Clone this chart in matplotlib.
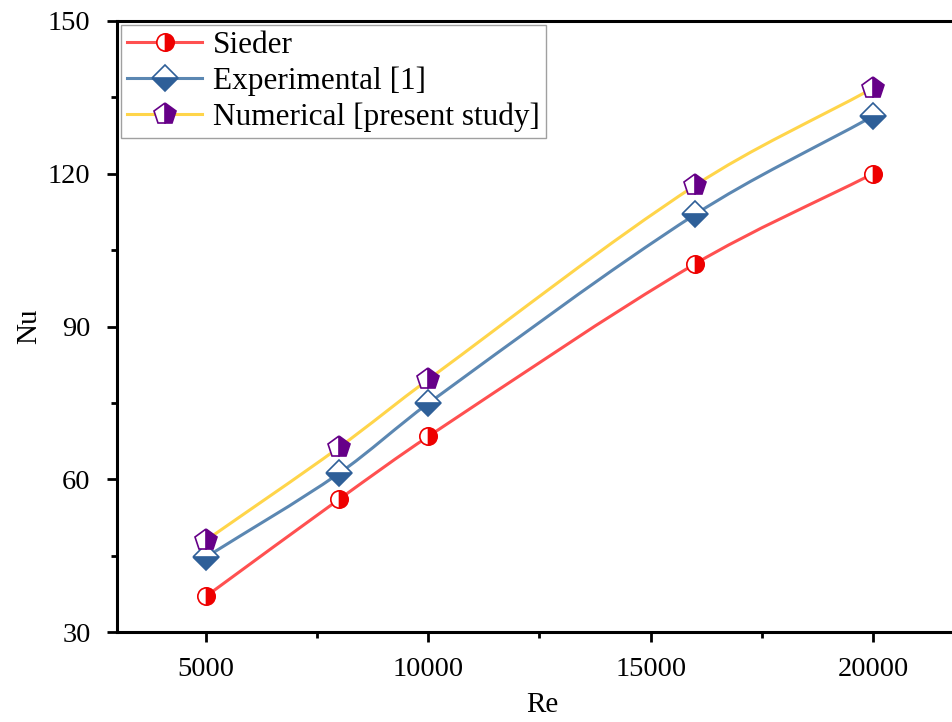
import numpy as np
import matplotlib
matplotlib.use("Agg")
import matplotlib.pyplot as plt
from matplotlib.path import Path
from matplotlib.patches import PathPatch
from matplotlib.lines import Line2D

re_vals = [5000, 8000, 10000, 16000, 20000]
nu_sieder = [37.0, 56.1, 68.4, 102.3, 120.0]
nu_exp = [44.7, 61.2, 74.9, 112.0, 131.3]
nu_num = [48.0, 66.3, 79.6, 117.7, 136.8]

labels = ["Sieder", "Experimental [1]", "Numerical [present study]"]
line_colors = ["#FF5050", "#5B87B2", "#FFD54A"]
marker_colors = ["#EE0000", "#2E5F98", "#660088"]
markers = ["o", "D", "p"]
fills = ["right", "bottom", "right"]
msizes = [12.5, 13.5, 16]

plt.rcParams['font.family'] = ['Liberation Serif', 'DejaVu Serif']

fig = plt.figure(figsize=(9.53, 7.22), dpi=100)
ax = fig.add_axes([117/953, 1 - 632/722, 1 - 117/953, (632 - 21)/722])


def smooth_path(x, y):
    x = np.asarray(x, float)
    y = np.asarray(y, float)
    n = len(x)
    verts = [(x[0], y[0])]
    codes = [Path.MOVETO]
    for i in range(n - 1):
        p0 = (x[i - 1], y[i - 1]) if i > 0 else (2 * x[0] - x[1], 2 * y[0] - y[1])
        p3 = (x[i + 2], y[i + 2]) if i + 2 < n else (2 * x[-1] - x[-2], 2 * y[-1] - y[-2])
        p1 = (x[i], y[i]); p2 = (x[i + 1], y[i + 1])
        dx = p2[0] - p1[0]
        t1 = (p2[0] - p0[0], p2[1] - p0[1])
        t2 = (p3[0] - p1[0], p3[1] - p1[1])
        s1 = dx / t1[0] / 3 if t1[0] else 0
        s2 = dx / t2[0] / 3 if t2[0] else 0
        c1 = (p1[0] + t1[0] * s1, p1[1] + t1[1] * s1)
        c2 = (p2[0] - t2[0] * s2, p2[1] - t2[1] * s2)
        verts += [c1, c2, p2]
        codes += [Path.CURVE4] * 3
    return Path(verts, codes)


series = [nu_sieder, nu_exp, nu_num]
handles = []
for ys, lab, lc, mc, mk, fs, ms in zip(series, labels, line_colors, marker_colors, markers, fills, msizes):
    patch = PathPatch(smooth_path(re_vals, ys), facecolor='none', edgecolor=lc,
                      lw=2.2, transform=ax.transData, zorder=2)
    ax.add_patch(patch)
    ax.plot(re_vals, ys, ls='none', marker=mk, ms=ms, fillstyle=fs,
            markerfacecolor=mc, markerfacecoloralt='white', markeredgecolor=mc,
            markeredgewidth=1.2, zorder=3)
    handles.append(Line2D([0], [0], color=lc, lw=2.2, marker=mk, ms=ms, fillstyle=fs,
                          markerfacecolor=mc, markerfacecoloralt='white',
                          markeredgecolor=mc, markeredgewidth=1.2))

ax.set_xlim(3000, 21800)
ax.set_ylim(30, 150)
ax.set_xticks([5000, 10000, 15000, 20000])
ax.set_xticks([7500, 12500, 17500], minor=True)
ax.set_yticks([30, 60, 90, 120, 150])
ax.set_yticks([45, 75, 105, 135], minor=True)
ax.tick_params(which='major', direction='out', length=7, width=2, labelsize=20.5)
ax.tick_params(which='minor', direction='out', length=4, width=2)
ax.tick_params(axis='x', which='major', pad=11)
ax.tick_params(axis='y', which='major', pad=12)
for s in ['left', 'bottom', 'top']:
    ax.spines[s].set_linewidth(2.2)
ax.spines['right'].set_visible(False)

ax.set_xlabel('Re', fontsize=21)
ax.set_ylabel('Nu', fontsize=21)
ax.xaxis.set_label_coords(0.509, -0.098)
ax.yaxis.set_label_coords(-0.0897, 0.5)

leg = ax.legend(handles, labels, loc='upper left', fontsize=22.5, handlelength=2.4,
                frameon=True, fancybox=False, borderpad=0.2, labelspacing=0.2,
                handletextpad=0.35, borderaxespad=0.12)
leg.get_frame().set_edgecolor('#888888')
leg.get_frame().set_linewidth(1.0)

fig.savefig('out.png', dpi=100)
